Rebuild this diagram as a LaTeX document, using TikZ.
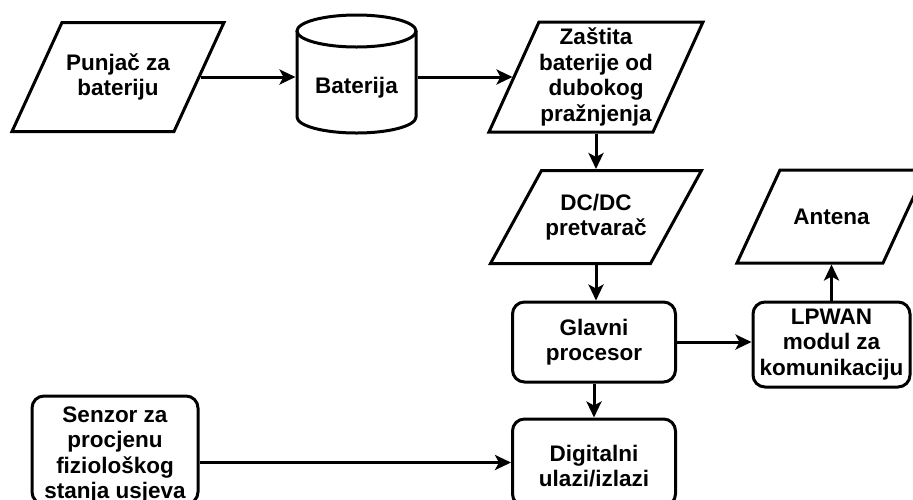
\documentclass[tikz,border=0pt]{standalone}
\usepackage{fontspec}
\setmainfont{Liberation Sans}
\usetikzlibrary{arrows.meta,calc}
\tikzset{
  ln/.style={line width=3pt},
  arr/.style={ln,-{Stealth[length=16pt,width=15pt,inset=4pt]}},
  lbl/.style={font=\bfseries\fontsize{22.5}{25.5}\selectfont, align=center, inner sep=0pt},
  anch/.style={lbl, draw=none, outer sep=1.5pt},
  rbox/.style={lbl, draw, ln, rounded corners=12pt},
}
% #1 name, #2 cx, #3 cy, #4 width, #5 height, #6 slant, #7 text
\newcommand{\pgram}[7]{%
  \node[anch, minimum width=#4pt, minimum height=#5pt] (#1) at (#2,#3) {#7};
  \draw[ln] ({#2-#4/2-#6/2},{#3+#5/2}) -- ({#2+#4/2-#6/2},{#3+#5/2})
    -- ({#2+#4/2+#6/2},{#3-#5/2}) -- ({#2-#4/2+#6/2},{#3-#5/2}) -- cycle;
}
\begin{document}
\begin{tikzpicture}[x=1pt,y=-1pt]
  \fill[white] (0,0) rectangle (913,499);
  \useasboundingbox (0,0) rectangle (913,499);

  % parallelograms
  \pgram{pun}{118}{77}{162}{109}{50}{Punjač za\\bateriju}
  \pgram{zas}{596}{77}{164}{110}{50}{Zaštita\\baterije od\\dubokog\\pražnjenja}
  \pgram{dc}{596}{217}{160}{93}{51}{DC/DC\\pretvarač}
  \pgram{ant}{831.5}{216.5}{146}{93}{43}{Antena}

  % battery cylinder
  \node[anch, minimum width=119pt, minimum height=118pt] (bat) at (356.5,74) {};
  \draw[ln] (356.5,31) ellipse [x radius=59.5, y radius=16];
  \draw[ln] (297,31) -- (297,117) arc[start angle=180, end angle=0, x radius=59.5, y radius=16] -- (416,31);
  \node[lbl] (batl) at (356.5,88) {Baterija};

  % rounded boxes
  \node[rbox, minimum width=163pt, minimum height=80pt] (gla) at (594,342) {Glavni\\procesor};
  \node[rbox, minimum width=157pt, minimum height=85pt] (lpw) at (831.5,344.5) {LPWAN\\modul za\\komunikaciju};
  \node[rbox, minimum width=163pt, minimum height=87pt] (dig) at (594,462.5) {};
  \node[lbl] (digl) at (594,466) {Digitalni\\ulazi/izlazi};
  \node[rbox, minimum width=166pt, minimum height=108pt] (sen) at (115,450) {};
  \node[lbl] (senl) at (115,455) {Senzor za\\procjenu\\fiziološkog\\stanja usjeva};

  % connectors
  \draw[arr] (pun.east) -- (pun.east -| bat.west);
  \draw[arr] (bat.east |- zas.west) -- (zas.west);
  \draw[arr] (zas.south) -- (dc.north);
  \draw[arr] (dc.south) -- (dc.south |- gla.north);
  \draw[arr] (gla.east) -- (gla.east -| lpw.west);
  \draw[arr] (lpw.north) -- (lpw.north |- ant.south);
  \draw[arr] (gla.south) -- (dig.north);
  \draw[arr] (sen.east |- dig.west) -- (dig.west);
\end{tikzpicture}
\end{document}
